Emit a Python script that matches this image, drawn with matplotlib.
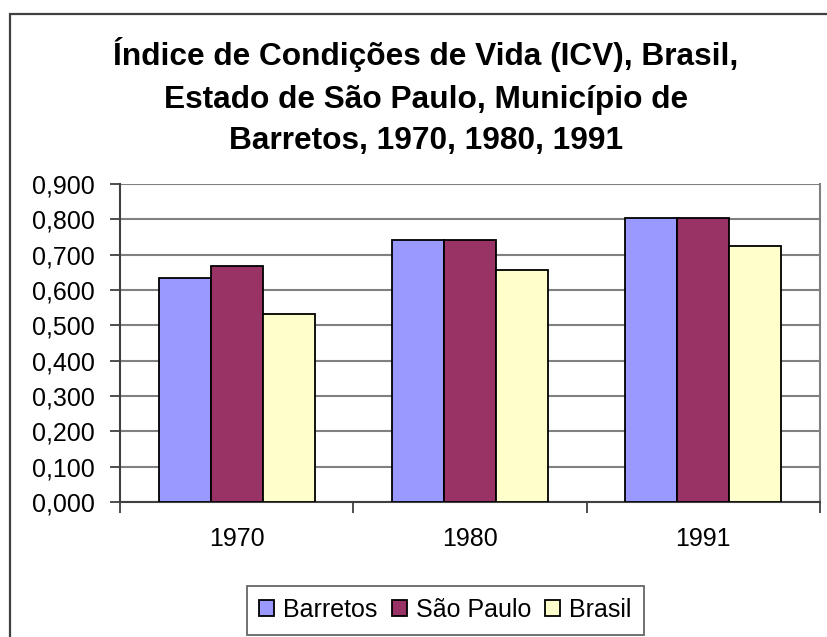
import matplotlib
matplotlib.use("Agg")
import matplotlib.pyplot as plt
import numpy as np
from matplotlib.patches import Rectangle

plt.rcParams['font.family'] = ['Liberation Sans', 'DejaVu Sans']

categories = ["1970", "1980", "1991"]
series_names = ["Barretos", "São Paulo", "Brasil"]
barretos = [0.634, 0.742, 0.804]
sao_paulo = [0.668, 0.742, 0.804]
brasil = [0.532, 0.657, 0.725]
yticks = [0.0, 0.1, 0.2, 0.3, 0.4, 0.5, 0.6, 0.7, 0.8, 0.9]
ytick_labels = ["0,000", "0,100", "0,200", "0,300", "0,400", "0,500", "0,600", "0,700", "0,800", "0,900"]
title_lines = ["Índice de Condições de Vida (ICV), Brasil,",
               "Estado de São Paulo, Município de",
               "Barretos, 1970, 1980, 1991"]
colors = ["#9999FF", "#993366", "#FFFFCC"]

W, H = 828, 637
fig = plt.figure(figsize=(W/100, H/100), dpi=100)

# outer chart frame (extends past right and bottom edges)
fig.patches.append(Rectangle((10/W, -0.05), 1.0, 1.05 - 14/H, transform=fig.transFigure,
                             fill=False, edgecolor="#404040", linewidth=1.6, clip_on=False))

ax = fig.add_axes([120/W, 1 - 502/H, (820-120)/W, (502-184)/H])

x = np.arange(len(categories))
w = 0.2225
for i, (vals, name) in enumerate(zip([barretos, sao_paulo, brasil], series_names)):
    ax.bar(x + (i - 1) * w, vals, width=w, color=colors[i], edgecolor="black",
           linewidth=1.3, label=name, zorder=3)

ax.set_xlim(-0.5, 2.5)
ax.set_ylim(0, 0.9)
ax.set_yticks(yticks)
ax.set_yticklabels(ytick_labels)
ax.yaxis.grid(True, color="#808080", linewidth=1.5, zorder=0)
ax.set_axisbelow(True)

ax.set_xticks(x)
ax.set_xticklabels(categories)
ax.tick_params(axis='x', length=0, pad=18, labelsize=18)
ax.set_xticks([-0.5, 0.5, 1.5, 2.5], minor=True)
ax.tick_params(axis='x', which='minor', length=8, width=1.3, color="#404040", direction='out')
ax.tick_params(axis='y', length=7, width=1.3, color="#404040", direction='out', labelsize=18, pad=11)

ax.spines['top'].set_visible(False)
ax.spines['right'].set_color("#808080")
ax.spines['right'].set_linewidth(1.5)
ax.spines['left'].set_color("#404040")
ax.spines['left'].set_linewidth(1.5)
ax.spines['bottom'].set_color("#404040")
ax.spines['bottom'].set_linewidth(1.5)

# Title lines
baselines = [65, 108, 149]
for line, yb in zip(title_lines, baselines):
    fig.text(426/W, 1 - yb/H, line, ha='center', va='baseline', fontsize=22.8, fontweight='bold')

leg = fig.legend(loc='center', bbox_to_anchor=((248+643)/2/W, 1 - 610/H), ncol=3,
                 fontsize=18, frameon=True, fancybox=False, handlelength=0.6, handleheight=0.6,
                 handletextpad=0.36, columnspacing=0.56, borderpad=0.5, borderaxespad=0)
leg.get_frame().set_edgecolor("#404040")
leg.get_frame().set_linewidth(1.3)

fig.savefig("out.png", dpi=100)
